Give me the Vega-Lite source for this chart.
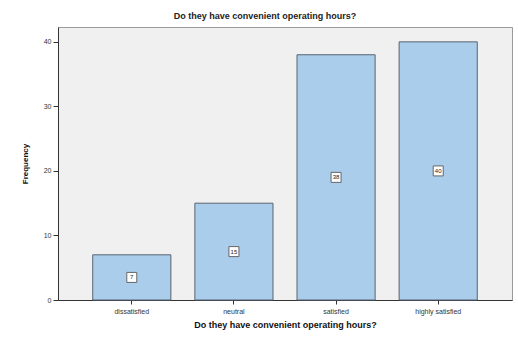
{
  "$schema": "https://vega.github.io/schema/vega-lite/v6.json",
  "width": 454,
  "height": 273,
  "autosize": {"type": "none"},
  "padding": {"left": 58, "top": 27, "right": 6, "bottom": 37},
  "background": "white",
  "title": {
    "text": "Do they have convenient operating hours?",
    "fontSize": 9,
    "fontWeight": "bold",
    "font": "Liberation Sans",
    "color": "#222222",
    "anchor": "middle",
    "dx": -20,
    "offset": 6
  },
  "config": {
    "view": {"fill": "#f0f0f0", "stroke": "#9a9a9a", "strokeWidth": 1},
    "axis": {"labelFont": "Liberation Sans", "titleFont": "Liberation Sans", "grid": false, "domainColor": "#333333", "tickColor": "#333333", "labelColor": "#333333", "titleColor": "#111111"}
  },
  "data": {
    "values": [
      {"category": "dissatisfied", "count": 7},
      {"category": "neutral", "count": 15},
      {"category": "satisfied", "count": 38},
      {"category": "highly satisfied", "count": 40}
    ]
  },
  "encoding": {
    "x": {
      "field": "category",
      "type": "nominal",
      "sort": null,
      "scale": {"paddingInner": 0.235, "paddingOuter": 0.34},
      "axis": {
        "title": "Do they have convenient operating hours?",
        "titleFontSize": 9,
        "titleFontWeight": "bold",
        "titlePadding": 6,
        "labelAngle": 0,
        "labelFontSize": 7,
        "tickSize": 4,
        "labelPadding": 3
      }
    }
  },
  "layer": [
    {
      "mark": {"type": "bar", "fill": "#a9cdea", "stroke": "#5a6470", "strokeWidth": 1},
      "encoding": {
        "y": {
          "field": "count",
          "type": "quantitative",
          "scale": {"domain": [0, 42.3], "nice": false},
          "axis": {
            "title": "Frequency",
            "titleFontSize": 8,
            "titleFontWeight": "bold",
            "titlePadding": 14,
            "values": [0, 10, 20, 30, 40],
            "labelFontSize": 7,
            "tickSize": 5,
            "labelPadding": 2
          }
        }
      }
    },
    {
      "transform": [{"calculate": "datum.count / 2", "as": "mid"}],
      "mark": {"type": "square", "size": 100, "fill": "white", "stroke": "#666666", "strokeWidth": 1, "opacity": 1},
      "encoding": {"y": {"field": "mid", "type": "quantitative"}}
    },
    {
      "transform": [{"calculate": "datum.count / 2", "as": "mid"}],
      "mark": {"type": "text", "fontSize": 6, "font": "Liberation Sans", "color": "#222222", "baseline": "middle"},
      "encoding": {
        "y": {"field": "mid", "type": "quantitative"},
        "text": {"field": "count", "type": "quantitative"}
      }
    }
  ]
}
